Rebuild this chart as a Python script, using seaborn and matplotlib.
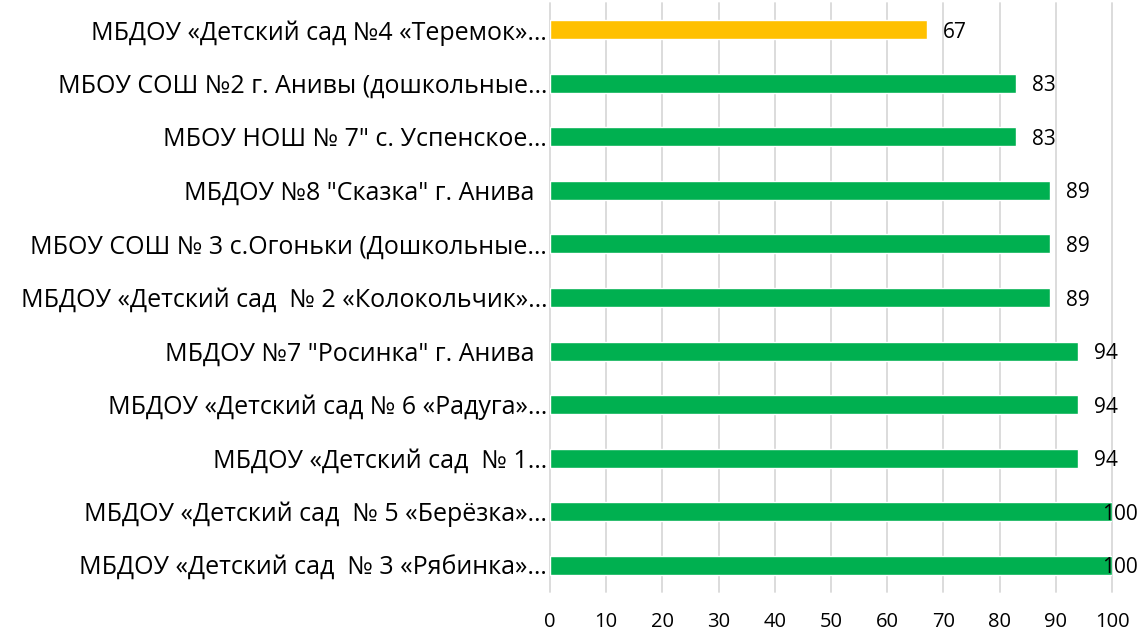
import seaborn as sns
import matplotlib.pyplot as plt
import pandas as pd

# данные с диаграммы (сверху вниз)
labels = [
    "МБДОУ «Детский сад №4 «Теремок»…",
    "МБОУ СОШ №2 г. Анивы (дошкольные…",
    "МБОУ НОШ № 7\" с. Успенское…",
    "МБДОУ №8 \"Сказка\" г. Анива  ",
    "МБОУ СОШ № 3 с.Огоньки (Дошкольные…",
    "МБДОУ «Детский сад  № 2 «Колокольчик»…",
    "МБДОУ №7 \"Росинка\" г. Анива  ",
    "МБДОУ «Детский сад № 6 «Радуга»…",
    "МБДОУ «Детский сад  № 1…",
    "МБДОУ «Детский сад  № 5 «Берёзка»…",
    "МБДОУ «Детский сад  № 3 «Рябинка»…",
]
values = [67, 83, 83, 89, 89, 89, 94, 94, 94, 100, 100]
bar_colors = ["#FFC000"] + ["#00B050"] * 10
x_ticks = list(range(0, 101, 10))

df = pd.DataFrame({"label": labels, "value": values})

sns.set_style("white")
plt.rcParams["font.family"] = ["Open Sans", "DejaVu Sans"]

fig = plt.figure(figsize=(11.4, 6.33), dpi=100)
ax = fig.add_axes([550 / 1140, 1 - 592 / 633, 562 / 1140, 589 / 633])

sns.barplot(data=df, x="value", y="label", hue="label", palette=bar_colors,
            legend=False, orient="h", width=0.355, saturation=1, ax=ax)

ax.set_xlim(0, 100)
ax.set_xticks(x_ticks)
ax.set_xlabel("")
ax.set_ylabel("")
for s in ax.spines.values():
    s.set_visible(False)
ax.xaxis.grid(True, color="#D9D9D9", linewidth=1.3)
ax.set_axisbelow(True)
for gl in ax.get_xgridlines():
    gl.set_clip_on(False)
ax.tick_params(axis="x", length=0, pad=14.5, labelsize=14.5, colors="black")
ax.tick_params(axis="y", length=0, pad=2, labelsize=18, colors="black")
for t in ax.get_yticklabels():
    t.set_va("center_baseline")

for i, v in enumerate(values):
    off = 11.5 if v < 100 else -7
    ax.annotate(str(v), (v, i), xytext=(off, 0), textcoords="offset points",
                va="center_baseline", ha="left", fontsize=15, color="black",
                annotation_clip=False)

fig.savefig("out.png", dpi=100)
